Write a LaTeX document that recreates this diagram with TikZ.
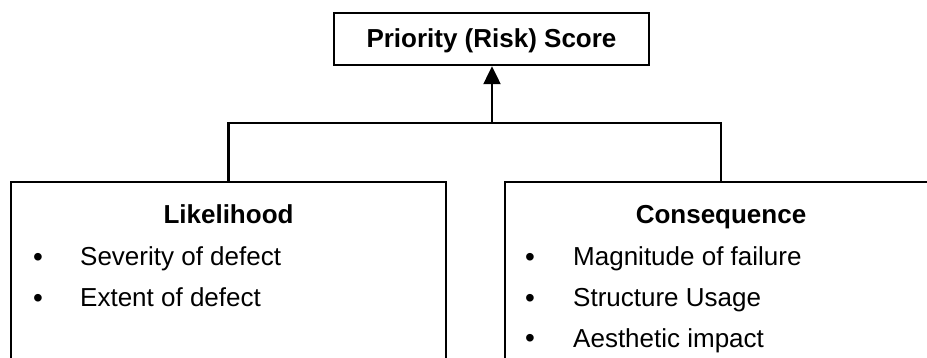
\documentclass[tikz,border=0pt]{standalone}
\usepackage{fontspec}
\setmainfont{Liberation Sans}
\usetikzlibrary{arrows.meta}
\begin{document}
\begin{tikzpicture}[x=1pt,y=-1pt,
  frame/.style={draw=black, line width=2.5pt, rectangle, inner sep=0pt},
  heading/.style={font=\fontsize{26}{30}\selectfont\bfseries, anchor=base, inner sep=0pt},
  item/.style={font=\fontsize{26}{30}\selectfont, anchor=base west, inner sep=0pt},
  dot/.style={font=\fontsize{28}{30}\selectfont, anchor=base, inner sep=0pt},
  link/.style={line width=2.5pt}]
\useasboundingbox (0,0) rectangle (927,358);
\clip (0,0) rectangle (927,358);

% top box
\node[frame, minimum width=315pt, minimum height=52pt] (score) at (491.5,39) {};
\node[heading] (scoretext) at (491.5,48) {Priority (Risk) Score};

% lower boxes (run past the lower and right edges)
\node[frame, minimum width=435pt, minimum height=218pt] (like) at (228.5,291) {};
\node[frame, minimum width=432pt, minimum height=218pt] (cons) at (721,291) {};

% Likelihood contents
\node[heading] (liketitle) at (228.5,224) {Likelihood};
\node[dot] (lb1) at (38,267) {•};
\node[item] (li1) at (80,266) {Severity of defect};
\node[dot] (lb2) at (38,308) {•};
\node[item] (li2) at (80,307) {Extent of defect};

% Consequence contents
\node[heading] (constitle) at (721,224) {Consequence};
\node[dot] (cb1) at (530,267) {•};
\node[item] (ci1) at (573,266) {Magnitude of failure};
\node[dot] (cb2) at (530,308) {•};
\node[item] (ci2) at (573,307) {Structure Usage};
\node[dot] (cb3) at (530,348) {•};
\node[item] (ci3) at (573,347) {Aesthetic impact};

% connectors
\coordinate (join) at (492,123);
\draw[link] (like.north) |- (join) -| (cons.north);
\draw[link, -{Triangle[width=17pt,length=18pt]}] (join) -- (join |- score.south);
\end{tikzpicture}
\end{document}
